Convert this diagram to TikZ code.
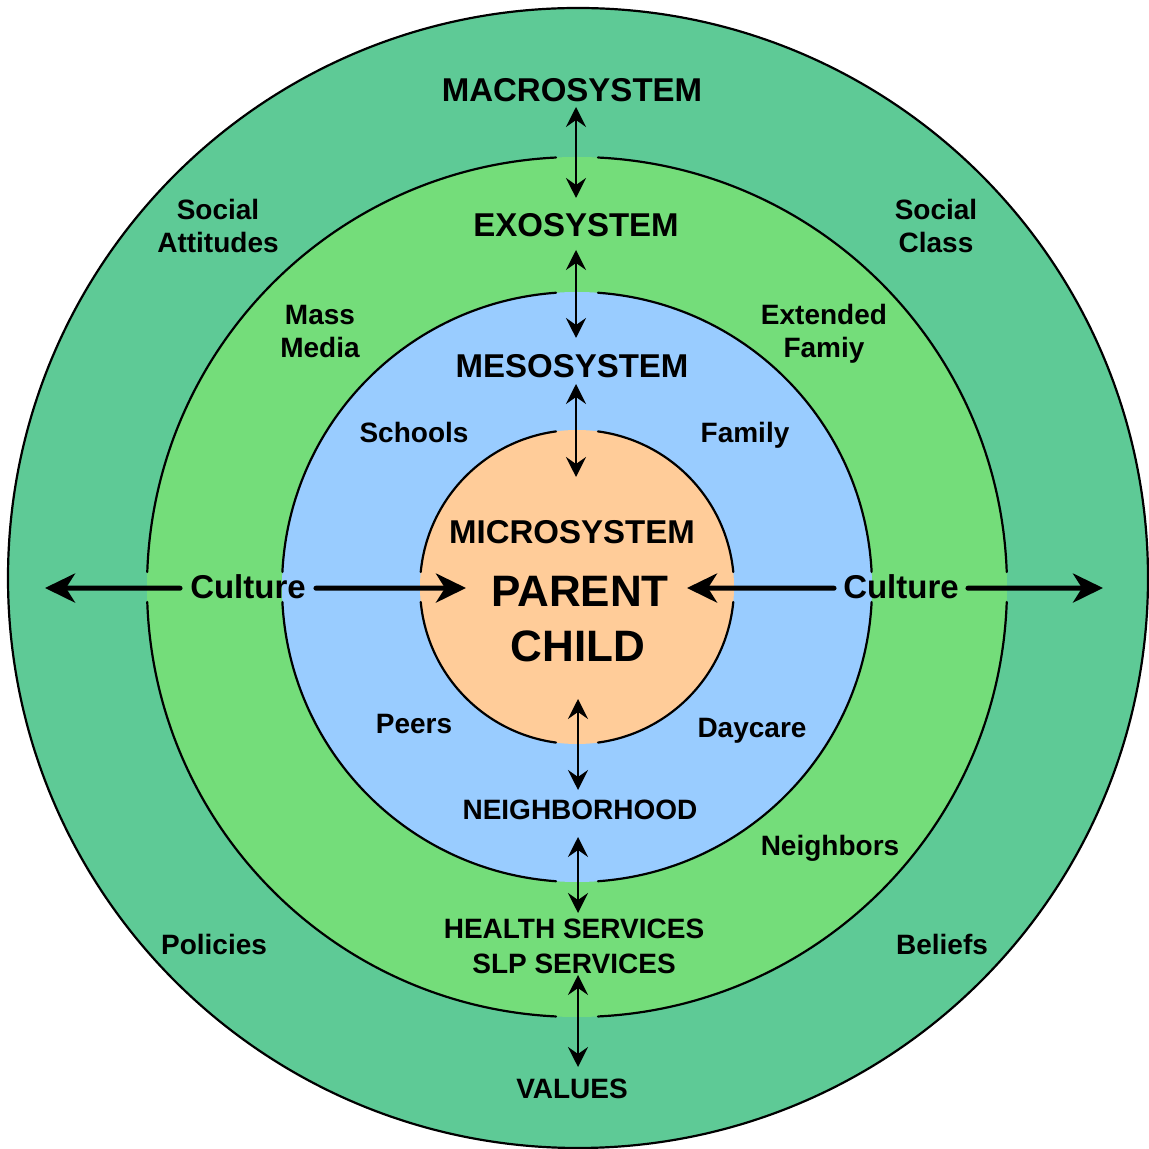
\documentclass[tikz,border=0pt]{standalone}
\usepackage{fontspec}
\setmainfont{Liberation Sans}
\usetikzlibrary{arrows.meta}
\definecolor{cmacro}{RGB}{94,202,150}
\definecolor{cexo}{RGB}{116,221,122}
\definecolor{cmeso}{RGB}{153,204,255}
\definecolor{cmicro}{RGB}{255,204,153}
\begin{document}
\begin{tikzpicture}[x=1pt, y=1pt, line join=round, line cap=round,
  >={Stealth[length=20pt,width=20pt,inset=7pt]},
  ring/.style={line width=2.2pt},
  dbl/.style={<->, line width=2pt},
  cult/.style={-{Stealth[length=30pt,width=29pt,inset=9pt]}, line width=5pt},
  lab/.style={inner sep=0pt, anchor=base, font=\bfseries\fontsize{28}{33}\selectfont},
  two/.style={inner sep=0pt, align=center, font=\bfseries\fontsize{28}{33}\selectfont},
  sys/.style={inner sep=0pt, anchor=base, font=\bfseries\fontsize{33}{38}\selectfont},
  pc/.style={inner sep=0pt, anchor=base, font=\bfseries\fontsize{44}{50}\selectfont}]
\useasboundingbox (0,0) rectangle (1149,1149);
%Tâm các hình tròn
\coordinate (O) at (577,562);
\coordinate (Ob) at (578,571);
%Vẽ các hình tròn
\fill[cmacro] (Ob) circle (570);
\draw[ring] (Ob) circle (570);
\fill[cexo] (O) circle (430);
\fill[cmeso] (O) circle (295);
\fill[cmicro] (O) circle (157);
\foreach \r in {430,295,157}{
  \pgfmathsetmacro\dv{asin(21/\r)}
  \pgfmathsetmacro\dh{asin(15/\r)}
  \foreach \q in {0,180}
    \draw[ring] (O) ++(\q+\dh:\r) arc[start angle=\q+\dh, end angle=\q+90-\dv, radius=\r];
  \foreach \q in {90,270}
    \draw[ring] (O) ++(\q+\dv:\r) arc[start angle=\q+\dv, end angle=\q+90-\dh, radius=\r];
}
%Tên các hệ thống
\node[sys] (macro) at (572,1047) {MACROSYSTEM};
\node[sys] (exo) at (576,912) {EXOSYSTEM};
\node[sys] (meso) at (572,771) {MESOSYSTEM};
\node[sys] (micro) at (572,605) {MICROSYSTEM};
\node[pc] (parent) at (580,542) {PARENT};
\node[pc] (child) at (578,487) {CHILD};
\node[lab] (neigh) at (580,329) {NEIGHBORHOOD};
\node[lab] (health) at (574,210) {HEALTH SERVICES};
\node[lab] (slp) at (574,175) {SLP SERVICES};
\node[lab] (values) at (572,50) {VALUES};
%Các nhãn khác
\node[two] (attit) at (218,923) {Social\\Attitudes};
\node[two] (class) at (936,923) {Social\\Class};
\node[two] (media) at (320,817) {Mass\\Media};
\node[two] (ext) at (824,815) {Extended\\Famiy};
\node[lab] (school) at (414,706) {Schools};
\node[lab] (family) at (745,706) {Family};
\node[lab] (peers) at (414,415) {Peers};
\node[lab] (daycare) at (752,411) {Daycare};
\node[lab] (neighb) at (830,293) {Neighbors};
\node[lab] (policy) at (214,194) {Policies};
\node[lab] (belief) at (942,194) {Beliefs};
%Mũi tên văn hoá
\node[sys, inner xsep=10pt] (cultL) at (248,550) {Culture};
\node[sys, inner xsep=9pt] (cultR) at (901,550) {Culture};
\coordinate (tipLo) at (45,561);
\coordinate (tipLi) at (466,561);
\coordinate (tipRi) at (687,561);
\coordinate (tipRo) at (1103,561);
\draw[cult] ([yshift=-1pt]cultL.west) -- (tipLo);
\draw[cult] ([yshift=-1pt]cultL.east) -- (tipLi);
\draw[cult] ([yshift=-1pt]cultR.west) -- (tipRi);
\draw[cult] ([yshift=-1pt]cultR.east) -- (tipRo);
%Mũi tên hai chiều
\foreach \x/\yt/\yb [count=\i] in {576/1042/951, 576/899/811, 576/765/672,
                                   578/450/359, 578/312/236, 578/174/82}{
  \coordinate (t\i) at (\x,\yt);
  \coordinate (b\i) at (\x,\yb);
  \draw[dbl] (t\i) -- (b\i);
}
\end{tikzpicture}
\end{document}
